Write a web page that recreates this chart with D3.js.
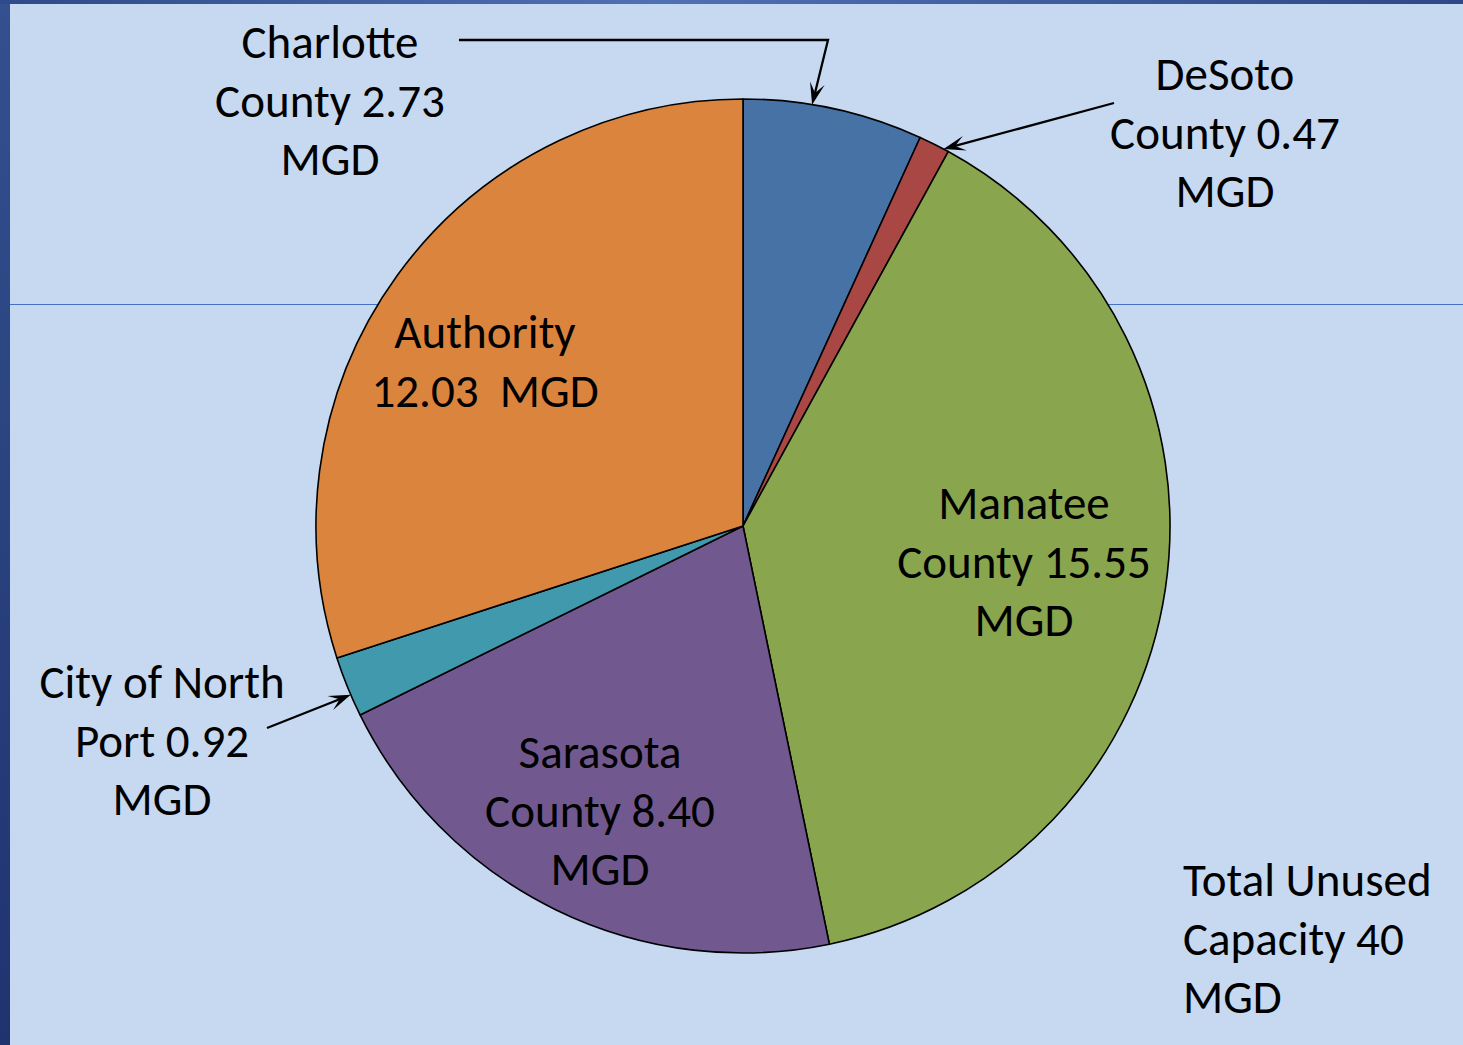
<!DOCTYPE html>
<html>
<head>
<meta charset="utf-8">
<script src="https://cdn.jsdelivr.net/npm/d3@7"></script>
<style>
  html, body { margin: 0; padding: 0; background: #c6d9f1; }
  svg { display: block; }
  text { font-family: Carlito, Calibri, "Open Sans", sans-serif; fill: #000; white-space: pre; }
</style>
</head>
<body>
<div id="chart"></div>
<script>
// unused capacity by member, MGD
var names = ['Charlotte County', 'DeSoto County', 'Manatee County', 'Sarasota County', 'City of North Port', 'Authority'],
    values = [2.73, 0.47, 15.55, 8.40, 0.92, 12.03],
    labelLines = [
      ['Charlotte', 'County 2.73', 'MGD'],
      ['DeSoto', 'County 0.47', 'MGD'],
      ['Manatee', 'County 15.55', 'MGD'],
      ['Sarasota', 'County 8.40', 'MGD'],
      ['City of North', 'Port 0.92', 'MGD'],
      ['Authority', '12.03  MGD']
    ],
    totalLines = ['Total Unused', 'Capacity 40', 'MGD'];

var colors = ['#4672a6', '#a94745', '#89a64e', '#71598f', '#4199ae', '#db843d'];

var width = 1463, height = 1045,
    cx = 743, cy = 526, radius = 427,
    fontSize = 47,
    lineHeight = 58.5;

// label anchors (x centre, first baseline) and leader lines for the small slices
var labelPos = [
  { x: 330, y: 58, leader: [[459, 40], [828, 40]], tip: 0.38 },
  { x: 1225, y: 90, leader: [[1114, 103]], tip: 0.83 },
  { x: 1024, y: 519 },
  { x: 600, y: 768 },
  { x: 162, y: 698, leader: [[267, 728]], tip: 0.36 },
  { x: 485, y: 348 }
];

var svg = d3.select('#chart').append('svg')
    .attr('width', width)
    .attr('height', height);

var defs = svg.append('defs');

var lg = defs.append('linearGradient').attr('id', 'leftbar').attr('x1', 0).attr('y1', 0).attr('x2', 0).attr('y2', 1);
lg.append('stop').attr('offset', 0).attr('stop-color', '#34508f');
lg.append('stop').attr('offset', 1).attr('stop-color', '#1f336f');

var tg = defs.append('linearGradient').attr('id', 'topbar');
tg.append('stop').attr('offset', 0).attr('stop-color', '#2f4a8a');
tg.append('stop').attr('offset', 0.45).attr('stop-color', '#5070b4');
tg.append('stop').attr('offset', 1).attr('stop-color', '#2e4888');

svg.append('rect').attr('width', width).attr('height', height).attr('fill', '#c6d9f1');
svg.append('rect').attr('width', 10).attr('height', height).attr('fill', 'url(#leftbar)');
svg.append('rect').attr('width', width).attr('height', 4).attr('fill', 'url(#topbar)');

// thin rule behind the pie
svg.append('line')
    .attr('x1', 10).attr('x2', width)
    .attr('y1', 304.5).attr('y2', 304.5)
    .attr('stroke', '#4472c4')
    .attr('stroke-width', 1);

var pie = d3.pie().sort(null).value(function(d) { return d; });
var arcs = pie(values);

var arc = d3.arc().innerRadius(0).outerRadius(radius);

var g = svg.append('g').attr('transform', 'translate(' + cx + ',' + cy + ')');

g.selectAll('path.slice')
    .data(arcs)
  .enter().append('path')
    .attr('class', 'slice')
    .attr('d', arc)
    .attr('fill', function(d, i) { return colors[i]; })
    .attr('stroke', '#000')
    .attr('stroke-width', 1.6)
    .attr('stroke-linejoin', 'round');

// leader arrows, head drawn as its own polygon
arcs.forEach(function(d, i) {
  var p = labelPos[i];
  if (!p.leader) return;
  var a = d.startAngle + (d.endAngle - d.startAngle) * p.tip;
  var tip = [cx + radius * Math.sin(a), cy - radius * Math.cos(a)];
  var from = p.leader[p.leader.length - 1];
  var ang = Math.atan2(tip[1] - from[1], tip[0] - from[0]);
  var ux = Math.cos(ang), uy = Math.sin(ang);
  function pt(back, side) {
    return [tip[0] - ux * back - uy * side, tip[1] - uy * back + ux * side];
  }
  svg.append('path')
      .attr('d', d3.line()(p.leader.concat([pt(10, 0)])))
      .attr('fill', 'none')
      .attr('stroke', '#000')
      .attr('stroke-width', 2.3);
  svg.append('path')
      .attr('d', d3.line()([tip, pt(22, -7.5), pt(12, 0), pt(22, 7.5)]) + 'Z')
      .attr('fill', '#000');
});

function addLines(sel, lines) {
  sel.selectAll('tspan')
      .data(lines)
    .enter().append('tspan')
      .attr('x', sel.attr('x'))
      .attr('dy', function(d, i) { return i ? lineHeight : 0; })
      .text(function(d) { return d; });
}

labelLines.forEach(function(lines, i) {
  var t = svg.append('text')
      .attr('x', labelPos[i].x)
      .attr('y', labelPos[i].y)
      .attr('text-anchor', 'middle')
      .attr('font-size', fontSize);
  addLines(t, lines);
});

var tt = svg.append('text')
    .attr('x', 1183)
    .attr('y', 896)
    .attr('font-size', fontSize);
addLines(tt, totalLines);
</script>
</body>
</html>
